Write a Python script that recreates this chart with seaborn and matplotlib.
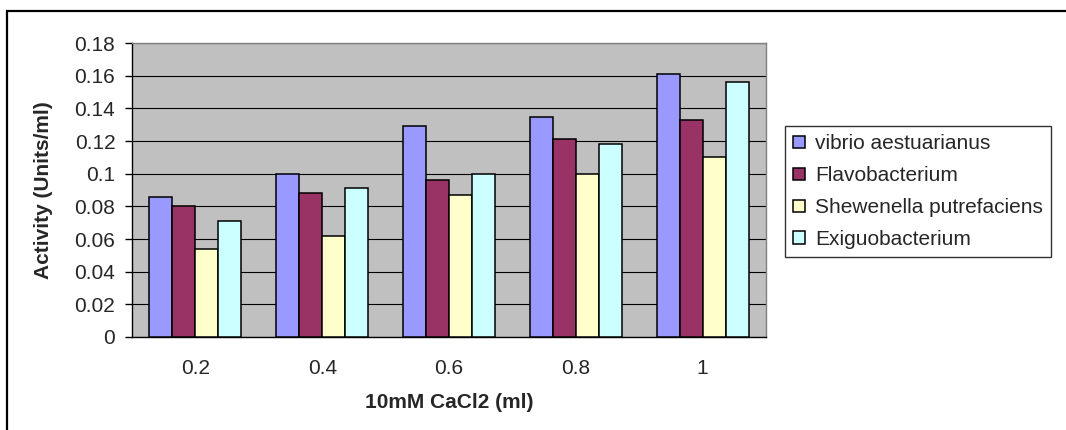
import matplotlib
matplotlib.use("Agg")
import matplotlib.pyplot as plt
from matplotlib.patches import Rectangle
import seaborn as sns
import pandas as pd

# CaCl2 volumes (ml) on the x axis
doses = ["0.2", "0.4", "0.6", "0.8", "1"]

# Enzyme activity (Units/ml) per organism
vibrio = [0.086, 0.100, 0.129, 0.135, 0.161]
flavobacterium = [0.080, 0.088, 0.096, 0.121, 0.133]
shewenella = [0.054, 0.062, 0.087, 0.100, 0.110]
exiguobacterium = [0.071, 0.091, 0.100, 0.118, 0.156]

species = ["vibrio aestuarianus", "Flavobacterium",
           "Shewenella putrefaciens", "Exiguobacterium"]
colors = ["#9999FF", "#993366", "#FFFFCC", "#CCFFFF"]

y_ticks = [0, 0.02, 0.04, 0.06, 0.08, 0.1, 0.12, 0.14, 0.16, 0.18]

rows = []
for name, vals in zip(species, [vibrio, flavobacterium, shewenella, exiguobacterium]):
    for d, v in zip(doses, vals):
        rows.append({"dose": d, "activity": v, "species": name})
df = pd.DataFrame(rows)

sns.set_style("white")
plt.rcParams["font.family"] = ["Liberation Sans", "DejaVu Sans"]
FS = 15

W, H = 1066, 430
fig = plt.figure(figsize=(W / 100, H / 100), dpi=100)
ax = fig.add_axes([132 / W, (H - 337) / H, 634 / W, 294 / H])
ax.set_facecolor("#C0C0C0")

sns.barplot(data=df, x="dose", y="activity", hue="species", order=doses,
            hue_order=species, palette=colors, width=0.725, gap=0,
            edgecolor="black", linewidth=1.1, saturation=1, ax=ax,
            legend=True, zorder=3)

ax.set_xlim(-0.5, len(doses) - 0.5)
ax.set_ylim(0, 0.18)

# horizontal gridlines
ax.set_yticks(y_ticks)
ax.set_yticklabels([f"{v:g}" for v in y_ticks], fontsize=FS)
ax.yaxis.grid(True, color="black", linewidth=0.8, zorder=1)
ax.set_axisbelow(True)

# category labels at centres, tick marks at category boundaries
ax.set_xticks(range(len(doses)))
ax.set_xticklabels(doses, fontsize=FS)
ax.set_xticks([i - 0.5 for i in range(len(doses) + 1)], minor=True)
ax.tick_params(axis="x", which="major", length=0, pad=16)
ax.tick_params(axis="x", which="minor", length=5, width=1, color="black", direction="out")
ax.tick_params(axis="y", which="major", length=5, width=1, color="black",
               direction="out", pad=7, left=True)

for side in ["top", "right"]:
    ax.spines[side].set_color("#808080")
    ax.spines[side].set_linewidth(1)
for side in ["left", "bottom"]:
    ax.spines[side].set_color("black")
    ax.spines[side].set_linewidth(1)

ax.set_ylabel("Activity (Units/ml)", fontsize=FS, fontweight="bold")
ax.set_xlabel("10mM CaCl2 (ml)", fontsize=FS, fontweight="bold")
ax.yaxis.set_label_coords((53 - 132) / 634, 0.5)
ax.xaxis.set_label_coords(0.5, (337 - 393) / 294)

handles, labels = ax.get_legend_handles_labels()
ax.legend_.remove()
leg = fig.legend(handles, labels, loc="upper left",
                 bbox_to_anchor=(785 / W, 1 - 126 / H), fontsize=FS,
                 frameon=True, fancybox=False, edgecolor="black",
                 handlelength=0.55, handleheight=0.55, handletextpad=0.5,
                 labelspacing=0.62, borderpad=0.4, borderaxespad=0)
leg.get_frame().set_linewidth(1)
leg.get_frame().set_facecolor("white")

# chart-area border
fig.patches.append(Rectangle((7 / W, -0.1), 1.2, (1 - 11 / H) + 0.1,
                             transform=fig.transFigure, fill=False,
                             edgecolor="black", linewidth=1.6, clip_on=False))

fig.savefig("out.png", dpi=100)
